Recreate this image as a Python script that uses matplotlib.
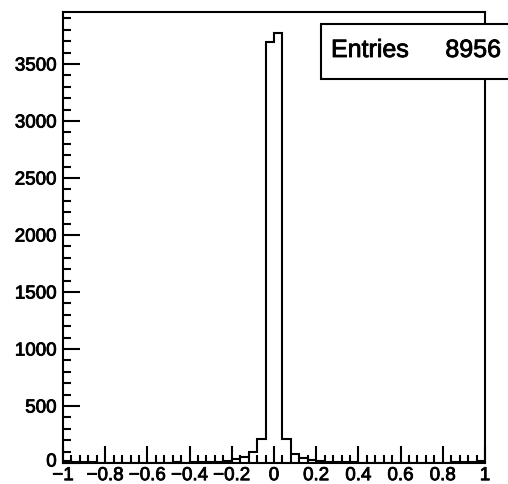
import numpy as np
import matplotlib
matplotlib.use("Agg")
import matplotlib.pyplot as plt
import matplotlib.patheffects as pe
from matplotlib.patches import Rectangle
from matplotlib.ticker import FixedLocator, MultipleLocator
from matplotlib.transforms import ScaledTranslation

# ---- data (50 bins from -1 to 1) ----
bin_edges = np.linspace(-1, 1, 51)
left_tail = [18, 10, 6, 5, 4, 4, 3, 3, 3, 4, 3, 4, 4, 5, 4, 5, 6, 6, 8]
core = [20, 32, 55, 99, 208, 3695, 3768, 208, 76, 41, 26, 15]
right_tail = [8, 6, 5, 5, 4, 4, 3, 3, 4, 3, 3, 4, 3, 4, 4, 5, 6, 10, 16]
counts = np.array(left_tail + core + right_tail, dtype=float)

xtick_values = [-1, -0.8, -0.6, -0.4, -0.2, 0, 0.2, 0.4, 0.6, 0.8, 1]
xtick_labels = ["\u22121", "\u22120.8", "\u22120.6", "\u22120.4", "\u22120.2", "0",
                "0.2", "0.4", "0.6", "0.8", "1"]
ytick_values = [0, 500, 1000, 1500, 2000, 2500, 3000, 3500]
ytick_labels = ["0", "500", "1000", "1500", "2000", "2500", "3000", "3500"]
stats_label = "Entries"
stats_value = "8956"

plt.rcParams['font.family'] = ['Liberation Sans', 'DejaVu Sans']
heavy = [pe.withStroke(linewidth=0.6, foreground="black")]

W, H = 508, 484
fig = plt.figure(figsize=(W / 100, H / 100), dpi=100)
ax = fig.add_axes([63 / W, 21 / H, 422 / W, 451 / H])

ax.stairs(counts, bin_edges, color="black", linewidth=1.5)

ax.set_xlim(-1, 1)
ax.set_ylim(0, counts.max() * 1.05)

ax.xaxis.set_major_locator(FixedLocator(xtick_values))
ax.set_xticklabels(xtick_labels)
ax.xaxis.set_minor_locator(MultipleLocator(0.04))
ax.yaxis.set_major_locator(FixedLocator(ytick_values))
ax.set_yticklabels(ytick_labels)
ax.yaxis.set_minor_locator(MultipleLocator(100))

ax.tick_params(axis="both", which="both", direction="in", top=False, right=False,
               color="black", width=1.5)
ax.tick_params(axis="x", which="major", length=12, pad=3, labelsize=13.5)
ax.tick_params(axis="x", which="minor", length=6)
ax.tick_params(axis="y", which="major", length=12, pad=4.5, labelsize=13.5)
ax.tick_params(axis="y", which="minor", length=6)

for lab in ax.get_xticklabels() + ax.get_yticklabels():
    lab.set_path_effects(heavy)

# lift the "0" y label slightly so it does not collide with "-1"
ylabs = ax.get_yticklabels()
ylabs[0].set_transform(ylabs[0].get_transform() + ScaledTranslation(0, 3 / 100, fig.dpi_scale_trans))

for s in ax.spines.values():
    s.set_linewidth(1.5)
    s.set_color("black")

# stats box
box = Rectangle((321 / W, 1 - 79 / H), (W + 5 - 321) / W, 55 / H,
                transform=fig.transFigure, facecolor="white", edgecolor="black",
                linewidth=1.5, clip_on=False, zorder=5)
fig.add_artist(box)
fig.text(331 / W, 1 - 50 / H, stats_label, ha="left", va="center", fontsize=18,
         zorder=6, path_effects=heavy)
fig.text(501 / W, 1 - 50 / H, stats_value, ha="right", va="center", fontsize=18,
         zorder=6, path_effects=heavy)

fig.savefig("out.png", dpi=100)
